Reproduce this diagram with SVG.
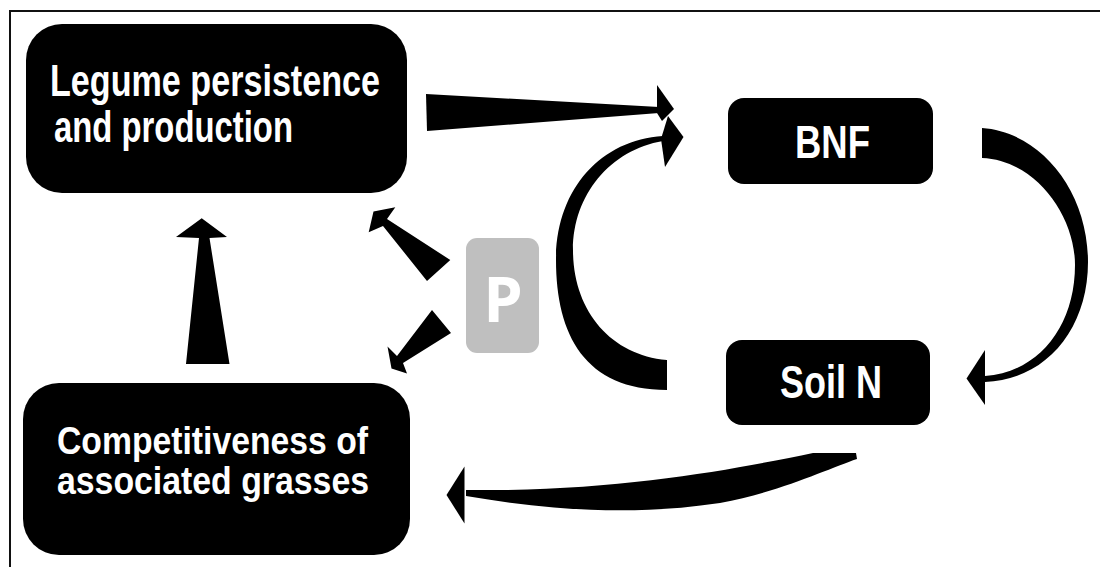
<svg xmlns="http://www.w3.org/2000/svg" width="1100" height="567" viewBox="0 0 1100 567">
<style>
.box{fill:#000}
.lbl{fill:#fff;font-family:"Liberation Sans",Arial,sans-serif;font-weight:bold}
.conn{fill:#000;stroke:none}
.frame{stroke:#111;stroke-width:2;fill:none}
</style>
<rect width="1100" height="567" fill="#fff"/>
<g id="frame">
<path class="frame" d="M10,567 V11 H1100"/>
</g>
<g id="node-legume">
<rect class="box" x="26" y="24" width="381" height="169" rx="36"/>
<text class="lbl" x="50" y="96" font-size="44" textLength="330" lengthAdjust="spacingAndGlyphs">Legume persistence</text>
<text class="lbl" x="54" y="142" font-size="44" textLength="239" lengthAdjust="spacingAndGlyphs">and production</text>
</g>
<g id="node-bnf">
<rect class="box" x="728" y="98" width="205" height="86" rx="16"/>
<text class="lbl" x="795" y="158" font-size="46" textLength="75" lengthAdjust="spacingAndGlyphs">BNF</text>
</g>
<g id="node-soiln">
<rect class="box" x="726" y="340" width="204" height="85" rx="16"/>
<text class="lbl" x="780" y="398" font-size="46" textLength="102" lengthAdjust="spacingAndGlyphs">Soil N</text>
</g>
<g id="node-competitiveness">
<rect class="box" x="23" y="383" width="387" height="172" rx="36"/>
<text class="lbl" x="57" y="454" font-size="39" textLength="311" lengthAdjust="spacingAndGlyphs">Competitiveness of</text>
<text class="lbl" x="57" y="494" font-size="39" textLength="312" lengthAdjust="spacingAndGlyphs">associated grasses</text>
</g>
<g id="node-p">
<rect x="466" y="238" width="73" height="115" rx="11" fill="#bfbfbf"/>
<text x="503" y="322" font-size="63" font-weight="bold" fill="#fff" text-anchor="middle" font-family="'Open Sans','Liberation Sans',sans-serif">P</text>
</g>
<g id="connectors">
<!-- Legume -> BNF -->
<path class="conn" d="M426,94 L659,107 L659,113 L427,131 Z"/>
<path class="conn" d="M657,85 L674,109 L662,121 L657,113 Z"/>
<!-- Soil N -> BNF (left arc) -->
<path class="conn" d="M667,390 C585,390 556,335 556,260 C556,190 600,140 663,136 L663,141 C610,150 573,195 573,250 C573,310 610,355 667,360 Z"/>
<path class="conn" d="M668,116 L683.5,137 L665,167 L661,139 Z"/>
<!-- BNF -> Soil N (right arc) -->
<path class="conn" d="M982,128 C1040,132 1088,190 1088,262 C1088,330 1045,380 985,382 L985,376 C1040,372 1075,325 1075,265 C1075,215 1035,160 982,158 Z"/>
<path class="conn" d="M985,350 L966.5,378.5 L985,405 Z"/>
<!-- Soil N -> Competitiveness (bottom) -->
<path class="conn" d="M856,453 L813,453 C740,468 620,492 466,490 L466,496 C560,512 640,515 720,503 C780,492 830,468 857,459 Z"/>
<path class="conn" d="M464.5,466.5 L446.5,495 L464.5,523.5 Z"/>
<!-- Competitiveness -> Legume (up) -->
<path class="conn" d="M201.7,218.3 L227,237 L209.5,238 L229.5,364 L186,364 L199,238 L176,237 Z"/>
<!-- P -> Legume -->
<path class="conn" d="M373.5,211.5 L395.3,207.3 L387,219 L450.3,260 L427,281 L383,226 L368.7,232.3 Z"/>
<!-- P -> Competitiveness -->
<path class="conn" d="M432,310 L451,333 L403,363 L407,373.5 L391.5,368.5 L387.5,346.5 L397,356 Z"/>
</g>
</svg>
